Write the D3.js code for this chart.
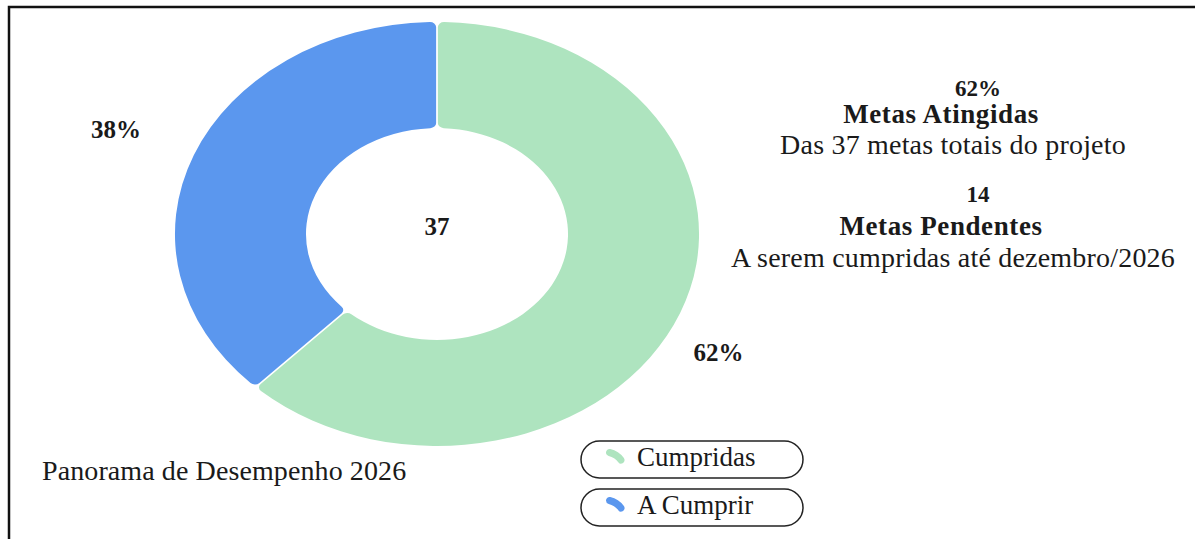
<!DOCTYPE html>
<html>
<head>
<meta charset="utf-8">
<script src="https://cdn.jsdelivr.net/npm/d3@7"></script>
<style>
    body { margin: 0; background: white; }
    text { font-family: 'Liberation Serif', 'DejaVu Serif', serif; fill: #1a1a1a; }
</style>
</head>
<body>
<div id="chart"></div>
<script>
// data
let categories = ['Cumpridas', 'A Cumprir']
let metas = [23, 14]
let colors = ['#aee4bf', '#5b97ee']
let chartTitle = 'Panorama de Desempenho 2026'
let kpiTitles = ['Metas Atingidas', 'Metas Pendentes']
let kpiNotes = ['Das 37 metas totais do projeto', 'A serem cumpridas até dezembro/2026']

let total = d3.sum(metas)
let pct = metas.map(v => Math.round(v / total * 100) + '%')

d3.select(window).on('load', () => {
    let svg = d3.select('#chart').append('svg')
        .attr('width', 1195)
        .attr('height', 539)

    // frame (runs off the right and bottom edge like the screenshot)
    svg.append('rect')
        .attr('x', 9)
        .attr('y', 7)
        .attr('width', 1300)
        .attr('height', 700)
        .attr('fill', 'none')
        .style('stroke', '#111')
        .style('stroke-width', 2.5)

    let cx = 437, cy = 234
    let sx = 1.236  // donut is stretched sideways
    let outerR = 212, innerR = 106

    let pie = d3.pie().sort(null).value(d => d)
    let arcs = pie(metas)

    let arc = d3.arc()
        .innerRadius(innerR)
        .outerRadius(outerR)
        .cornerRadius(5)
        .padAngle(0.006)

    let donut = svg.append('g')
        .attr('id', 'donut')
        .attr('transform', 'translate (' + cx + ', ' + cy + ') scale(' + sx + ', 1)')

    donut.selectAll('path')
        .data(arcs)
        .enter().append('path')
        .attr('d', arc)
        .attr('fill', (d, i) => colors[i])

    // percent labels outside the ring
    let labelR = [257, 280]
    let labelShift = [0.1, 0]
    svg.selectAll('.pct-label')
        .data(arcs)
        .enter().append('text')
        .attr('class', 'pct-label')
        .attr('x', (d, i) => {
            let p = d3.pointRadial((d.startAngle + d.endAngle) / 2 + labelShift[i], labelR[i])
            return cx + p[0] * sx
        })
        .attr('y', (d, i) => {
            let p = d3.pointRadial((d.startAngle + d.endAngle) / 2 + labelShift[i], labelR[i])
            return cy + p[1] + 8
        })
        .text((d, i) => pct[i])
        .style('font-size', '25px')
        .style('font-weight', 'bold')
        .style('text-anchor', 'middle')

    svg.append('text')
        .attr('transform', 'translate (' + cx + ', ' + (cy + 1) + ')')
        .text(total)
        .style('font-size', '25px')
        .style('font-weight', 'bold')
        .style('text-anchor', 'middle')

    // kpi panel on the right
    let kpiValues = [pct[0], metas[1]]
    let kpi = svg.append('g')
        .attr('id', 'kpi')

    kpiValues.forEach((v, i) => {
        let top = i * 102
        kpi.append('text')
            .attr('transform', 'translate (978, ' + (96 + top + i * 4) + ')')
            .text(v)
            .style('font-size', '23px')
            .style('font-weight', 'bold')
            .style('text-anchor', 'middle')
        kpi.append('text')
            .attr('transform', 'translate (941, ' + (123 + top + i * 10) + ')')
            .text(kpiTitles[i])
            .style('font-size', '27px')
            .style('font-weight', 'bold')
            .style('letter-spacing', '0.6px')
            .style('text-anchor', 'middle')
        kpi.append('text')
            .attr('transform', 'translate (953, ' + (154 + top + i * 11) + ')')
            .text(kpiNotes[i])
            .style('font-size', '28px')
            .style('letter-spacing', '0.2px')
            .style('text-anchor', 'middle')
    })

    svg.append('text')
        .attr('transform', 'translate (42, 480)')
        .text(chartTitle)
        .style('font-size', '28px')
        .style('letter-spacing', '0.1px')

    // legend pills
    let legendIcon = d3.arc()
        .innerRadius(16.5)
        .outerRadius(23.5)
        .startAngle(0.05)
        .endAngle(1.11)
        .cornerRadius(3.5)

    let legend = svg.selectAll('.legend-item')
        .data(categories)
        .enter().append('g')
        .attr('class', 'legend-item')
        .attr('transform', (d, i) => 'translate (581, ' + (441 + i * 48) + ')')

    legend.append('rect')
        .attr('width', 222)
        .attr('height', 37)
        .attr('rx', 18.5)
        .attr('fill', 'white')
        .style('stroke', '#222')
        .style('stroke-width', 1.5)

    legend.append('path')
        .attr('transform', 'translate (24, 31)')
        .attr('d', legendIcon)
        .attr('fill', (d, i) => colors[i])

    legend.append('text')
        .attr('transform', 'translate (56, 25)')
        .text(d => d)
        .style('font-size', '27px')
})
</script>
</body>
</html>
